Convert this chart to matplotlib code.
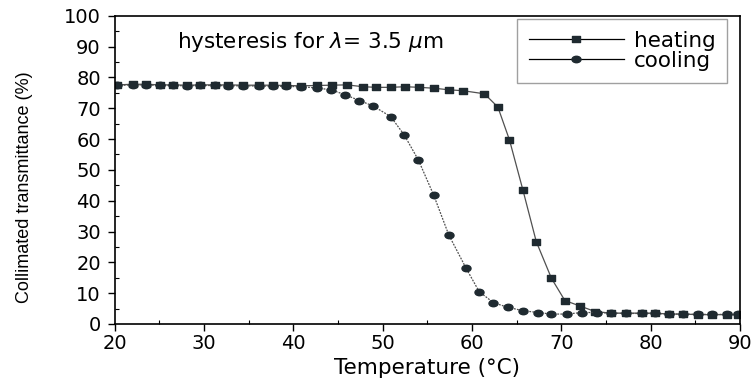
import matplotlib
matplotlib.use('Agg')
import matplotlib.pyplot as plt
from matplotlib.ticker import MultipleLocator
from matplotlib.path import Path
from matplotlib.transforms import Affine2D

# heating run (squares)
heat_T = [20.3, 22.0, 23.5, 25.1, 26.5, 28.1, 29.6, 31.2, 32.7, 34.4, 36.2, 37.7,
          39.2, 40.9, 42.6, 44.3, 46.0, 47.8, 49.3, 50.9, 52.5, 54.1, 55.8, 57.4,
          59.0, 61.4, 62.9, 64.2, 65.7, 67.2, 68.9, 70.4, 72.1, 73.8, 75.6, 77.3,
          79.0, 80.5, 82.1, 83.6, 85.3, 86.9, 88.5, 89.8]
heat_Tr = [77.6, 77.8, 77.8, 77.6, 77.6, 77.5, 77.6, 77.6, 77.6, 77.5, 77.5, 77.5,
           77.4, 77.3, 77.4, 77.5, 77.6, 77.0, 76.8, 76.8, 77.0, 76.8, 76.5, 76.0,
           75.7, 74.7, 70.4, 59.7, 43.5, 26.7, 14.8, 7.6, 5.8, 4.0, 3.5, 3.5,
           3.5, 3.5, 3.2, 3.2, 3.0, 3.0, 3.0, 3.0]

# cooling run (circles)
cool_T = [20.3, 22.0, 23.5, 25.1, 26.5, 28.1, 29.6, 31.2, 32.7, 34.4, 36.2, 37.7,
          39.2, 40.9, 42.6, 44.2, 45.8, 47.4, 48.9, 50.9, 52.4, 54.0, 55.7, 57.4,
          59.3, 60.8, 62.4, 64.0, 65.7, 67.4, 68.9, 70.6, 72.3, 74.0, 75.6, 77.3,
          79.0, 80.5, 82.1, 83.6, 85.3, 86.9, 88.5, 89.8]
cool_Tr = [77.4, 77.6, 77.6, 77.4, 77.4, 77.3, 77.4, 77.4, 77.3, 77.3, 77.2, 77.2,
           77.1, 77.0, 76.6, 76.0, 74.4, 72.5, 70.8, 67.3, 61.4, 53.2, 41.9, 28.9,
           18.3, 10.5, 6.9, 5.4, 4.3, 3.7, 3.2, 3.2, 3.7, 3.7, 3.5, 3.4,
           3.4, 3.4, 3.2, 3.2, 3.1, 3.1, 3.1, 3.1]

plt.rcParams['font.family'] = ['DejaVu Sans']

# the scan is stretched sideways, so the markers are a bit wider than tall
wide_sq = Path([(-1.3, -1), (1.3, -1), (1.3, 1), (-1.3, 1), (-1.3, -1)],
               [Path.MOVETO, Path.LINETO, Path.LINETO, Path.LINETO, Path.CLOSEPOLY])
wide_circ = Path.unit_circle().transformed(Affine2D().scale(1.4, 1.0))

fig = plt.figure(figsize=(7.55, 3.87), dpi=100)
ax = fig.add_axes([0.152, 0.163, 0.828, 0.796])

mc = '#1f2a30'
ax.plot(heat_T, heat_Tr, color='#505050', lw=0.9, marker=wide_sq, ms=6.3,
        mfc=mc, mec=mc, label='heating')
ax.plot(cool_T, cool_Tr, color='#505050', lw=0.9, ls=(0, (1.5, 1)), marker=wide_circ, ms=6.5,
        mfc=mc, mec=mc, label='cooling')

ax.set_xlim(20, 90)
ax.set_ylim(0, 100)
ax.xaxis.set_major_locator(MultipleLocator(10))
ax.xaxis.set_minor_locator(MultipleLocator(5))
ax.yaxis.set_major_locator(MultipleLocator(10))
ax.yaxis.set_minor_locator(MultipleLocator(5))
ax.tick_params(which='major', direction='out', length=5, width=1, labelsize=14, pad=2)
ax.tick_params(axis='y', which='major', pad=5)
ax.tick_params(which='minor', direction='in', length=3, width=0.8)
for s in ax.spines.values():
    s.set_linewidth(1.2)

ax.set_xlabel('Temperature (°C)', fontsize=15.5, labelpad=4)
ax.set_ylabel('Collimated transmittance (%)', fontsize=13, family='Liberation Sans')
ax.yaxis.set_label_coords(-0.13, 0.445)

ax.text(27.0, 91.6, r'hysteresis for $\lambda$= 3.5 $\mu$m', fontsize=15.5,
        ha='left', va='center')

leg = ax.legend(loc='upper right', bbox_to_anchor=(0.983, 0.997), fontsize=15.5,
                frameon=True, fancybox=False, edgecolor='#888888',
                handlelength=4.4, borderpad=0.55, labelspacing=0.0, handletextpad=0.45,
                borderaxespad=0.1)
leg.get_frame().set_linewidth(1.0)
for h in leg.legend_handles:
    h.set_color('black')
    h.set_linestyle('-')

fig.savefig('out.png', dpi=100)
